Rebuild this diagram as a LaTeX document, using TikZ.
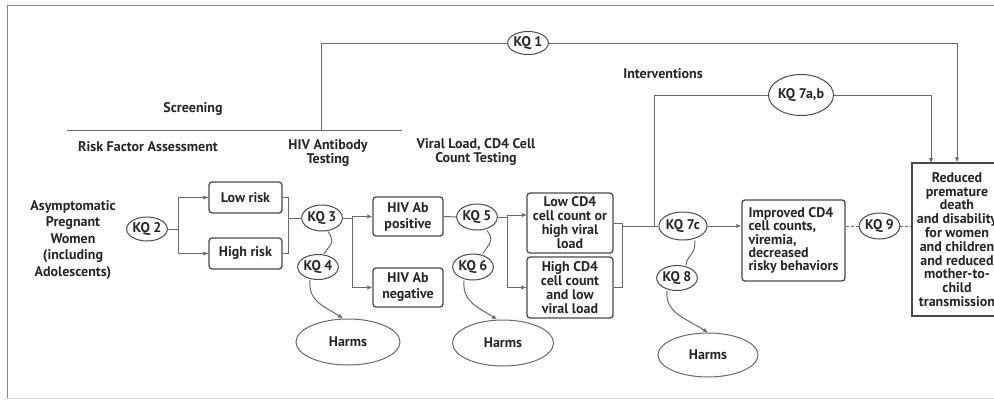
\documentclass[tikz,border=0pt]{standalone}
\usepackage{fontspec}
\setmainfont{PT Sans}
\usetikzlibrary{arrows.meta,shapes.geometric}
\definecolor{ln}{HTML}{6A6A6A}
\definecolor{bx}{HTML}{4A4A4A}
\definecolor{tx}{HTML}{262626}
\newcommand{\fs}[1]{\bfseries\fontsize{14}{#1}\selectfont}
\tikzset{
  lbl/.style={font=\fs{14}, text=tx, align=center, inner sep=0pt},
  kq/.style={ellipse, draw=bx, line width=1pt, inner sep=0pt, font=\fs{14}, text=tx},
  rbox/.style={rectangle, rounded corners=3pt, draw=bx, line width=1.3pt, inner sep=0pt, font=\fs{16}, text=tx, align=center},
  harm/.style={ellipse, draw=ln, line width=1pt, inner sep=0pt, font=\fs{14}, text=tx},
  conn/.style={draw=ln, line width=1pt},
  arr/.style={conn, -{Latex[length=5pt,width=4.5pt]}},
  dsh/.style={conn, dash pattern=on 3pt off 2pt},
  frm/.style={draw=ln!80, line width=1pt}
}
\begin{document}
\begin{tikzpicture}[x=1pt,y=-1pt]
\useasboundingbox (0,0) rectangle (994,402);
% frame
\draw[frm] (1000,5) -- (7,5) -- (7,398);
\draw[draw=black!15, line width=1pt] (7,398) -- (1000,398);

% header texts
\node[lbl] (tscr) at (193,109) {Screening};
\node[lbl] (trisk) at (148,147) {Risk Factor Assessment};
\node[lbl] (thiv) at (328,153) {HIV Antibody\\Testing};
\node[lbl] (tvir) at (476,152) {Viral Load, CD4 Cell\\Count Testing};
\node[lbl] (tint) at (663,74) {Interventions};

% population
\node[lbl, font=\fs{16.5}] (pop) at (73,240) {Asymptomatic\\Pregnant\\Women\\(including\\Adolescents)};

% KQ ellipses
\node[kq, minimum width=39pt, minimum height=24pt] (kq2) at (147,229) {KQ 2};
\node[kq, minimum width=38pt, minimum height=26pt] (kq3) at (322,218) {KQ 3};
\node[kq, minimum width=36pt, minimum height=25pt] (kq4) at (318,267) {KQ 4};
\node[kq, minimum width=38pt, minimum height=26pt] (kq5) at (477,217) {KQ 5};
\node[kq, minimum width=38pt, minimum height=26pt] (kq6) at (473,267) {KQ 6};
\node[kq, minimum width=42pt, minimum height=28pt] (kq7c) at (683,226) {KQ 7c};
\node[kq, minimum width=35pt, minimum height=25pt] (kq8) at (677,278) {KQ 8};
\node[kq, minimum width=37pt, minimum height=26pt] (kq9) at (879.5,226) {KQ 9};
\node[kq, minimum width=40pt, minimum height=23pt] (kq1) at (528,43) {KQ 1};
\node[kq, minimum width=64pt, minimum height=41pt] (kq7ab) at (801,95) {KQ 7a,b};

% boxes
\node[rbox, minimum width=73pt, minimum height=31pt] (low) at (245.5,197.5) {Low risk};
\node[rbox, minimum width=73pt, minimum height=31pt] (high) at (245.5,253.5) {High risk};
\node[rbox, minimum width=70pt, minimum height=39pt] (hivpos) at (408,216.5) {HIV Ab\\positive};
\node[rbox, minimum width=70pt, minimum height=39pt] (hivneg) at (408,287.5) {HIV Ab\\negative};
\node[rbox, minimum width=86pt, minimum height=60pt, font=\fs{14}] (lowcd4) at (570,223) {Low CD4\\cell count or\\high viral\\load};
\node[rbox, minimum width=86pt, minimum height=61pt, font=\fs{14}] (highcd4) at (570,287.5) {High CD4\\cell count\\and low\\viral load};
\node[rbox, minimum width=103pt, minimum height=81pt, align=left, font=\fs{13.4}] (impr) at (793.5,240.5) {Improved CD4\\cell counts,\\viremia,\\decreased\\risky behaviors};
\node[rectangle, draw=bx, line width=1.3pt, inner sep=0pt, minimum width=90pt, minimum height=153pt, lbl, font=\fs{13.8}] (red) at (957,239.5) {Reduced\\premature\\death\\and disability\\for women\\and children\\and reduced\\mother-to-\\child\\transmission};

% harms
\node[harm, minimum width=104pt, minimum height=46pt] (h1) at (348,342) {Harms};
\node[harm, minimum width=101pt, minimum height=46pt] (h2) at (503,343) {Harms};
\node[harm, minimum width=100pt, minimum height=44pt] (h3) at (708,355) {Harms};

% screening line and KQ1
\coordinate (scrL) at (67,130);
\coordinate (scrR) at (402,130);
\coordinate (scrM) at (321,130);
\draw[conn] (scrL) -- (scrR);
\draw[conn] (scrM) |- (kq1.west);
\draw[arr] (kq1.east) -| (red.north);

% KQ2 branch
\coordinate (j2) at (178,229);
\draw[conn] (kq2.east) -- (j2);
\draw[arr] (j2) |- (low.west);
\draw[arr] (j2) |- (high.west);

% to KQ3
\coordinate (j3a) at (288,218);
\draw[conn] (low.east) -| (j3a);
\draw[conn] (high.east) -| (j3a);
\draw[conn] (j3a) -- (kq3.west);

% KQ3 to HIV Ab
\coordinate (j3b) at (352,218);
\draw[conn] (kq3.east) -- (j3b);
\draw[arr] (j3b) |- (hivpos.west);
\draw[arr] (j3b) |- (hivneg.west);

% KQ5
\draw[conn] (hivpos.east) -- (kq5.west);
\coordinate (j5) at (507,217);
\coordinate (t5a) at (527,215);
\draw[conn] (kq5.east) -- (j5);
\draw[arr] (j5) |- (t5a);
\draw[arr] (j5) |- (highcd4.west);

% to KQ7c
\coordinate (j7) at (622,226);
\coordinate (j7v) at (654,226);
\draw[conn] (lowcd4.east) -| (j7);
\draw[conn] (highcd4.east) -| (j7);
\draw[conn] (j7) -- (kq7c.west);

% KQ7a,b
\draw[conn] (j7v) |- (kq7ab.west);
\coordinate (t7ab) at (931,163);
\draw[arr] (kq7ab.east) -| (t7ab);

% KQ7c to improved, KQ9
\draw[arr] (kq7c.east) -- (impr.west |- kq7c.east);
\draw[dsh] (impr.east |- kq9.west) -- (kq9.west);
\draw[dsh] (kq9.east) -- (kq9.east -| red.west);

% wavy links
\draw[conn] ([xshift=6pt]kq3.south) .. controls +(8,12) and +(6,-10) .. ([xshift=6pt]kq4.north);
\draw[conn] ([xshift=10pt]kq5.south) .. controls +(8,10) and +(6,-10) .. ([xshift=10pt]kq6.north);
\draw[conn] ([xshift=12pt]kq7c.south) .. controls +(0,16) and +(2,-12) .. ([xshift=9pt]kq8.north);

% to harms
\draw[arr] ([xshift=-8pt]kq4.south) .. controls +(-2,22) and +(-18,-12) .. ([xshift=-5pt]h1.north);
\draw[arr] ([xshift=-9pt]kq6.south) .. controls +(-2,22) and +(-18,-12) .. ([xshift=-6pt]h2.north);
\draw[arr] ([xshift=-10pt]kq8.south) .. controls +(-2,22) and +(-22,-14) .. (h3.north);
\end{tikzpicture}
\end{document}
